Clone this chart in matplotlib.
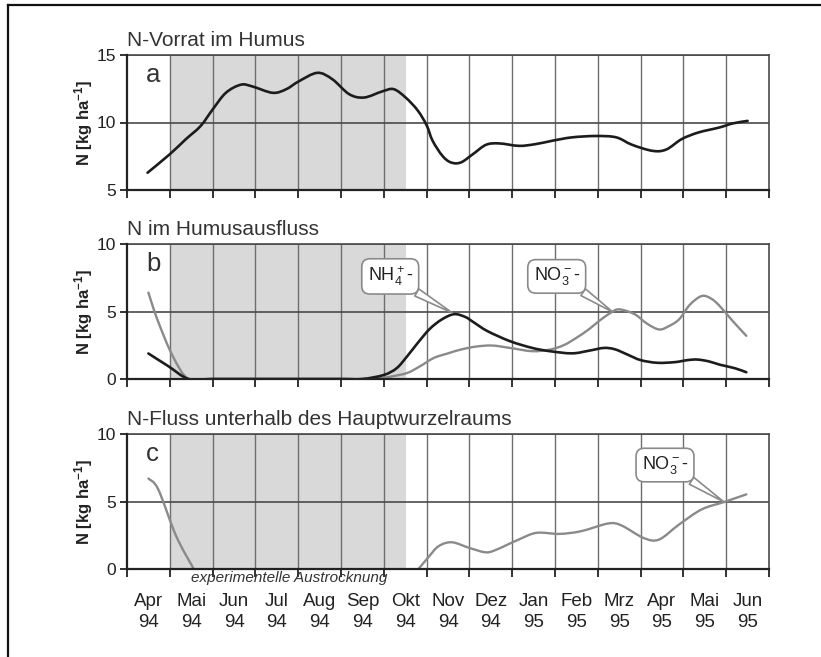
import matplotlib
matplotlib.use("Agg")
import matplotlib.pyplot as plt
from matplotlib.lines import Line2D
from matplotlib.path import Path
from matplotlib.patches import PathPatch

plt.rcParams['font.family'] = ['Liberation Sans', 'DejaVu Sans']
plt.rcParams['mathtext.fontset'] = 'custom'
plt.rcParams['mathtext.rm'] = 'Liberation Sans'
plt.rcParams['mathtext.it'] = 'Liberation Sans:italic'
plt.rcParams['mathtext.bf'] = 'Liberation Sans:bold'

# ---------------- data ----------------
months = ["Apr", "Mai", "Jun", "Jul", "Aug", "Sep", "Okt", "Nov", "Dez",
          "Jan", "Feb", "Mrz", "Apr", "Mai", "Jun"]
years = ["94", "94", "94", "94", "94", "94", "94", "94", "94",
         "95", "95", "95", "95", "95", "95"]
drying_start = 1.0
drying_end = 6.53

# panel a: N-Vorrat im Humus (x in months since start of Apr 94)
a_x = [0.48, 1.0, 1.37, 1.72, 2.0, 2.31, 2.66, 2.93, 3.4, 3.71, 4.02, 4.45,
       4.8, 5.19, 5.54, 5.96, 6.23, 6.51, 6.79, 7.0, 7.14, 7.37, 7.57, 7.8,
       8.08, 8.39, 8.7, 9.16, 9.55, 9.94, 10.4, 10.96, 11.43, 11.8, 12.28,
       12.6, 12.96, 13.35, 13.84, 14.15, 14.5]
a_y = [6.28, 7.65, 8.75, 9.74, 10.96, 12.2, 12.8, 12.67, 12.2, 12.45, 13.06,
       13.68, 13.2, 12.1, 11.85, 12.3, 12.47, 11.85, 10.9, 9.8, 8.65, 7.53,
       7.04, 7.04, 7.65, 8.35, 8.45, 8.27, 8.4, 8.65, 8.9, 9.0, 8.9, 8.35,
       7.9, 8.0, 8.77, 9.26, 9.63, 9.93, 10.12]

# panel b: N im Humusausfluss
b_nh4_x = [0.5, 0.97, 1.44, 2.0, 3.0, 4.0, 5.0, 5.5, 6.0, 6.3, 6.55, 6.8,
           7.07, 7.35, 7.64, 7.9, 8.1, 8.42, 8.95, 9.47, 9.88, 10.4, 10.8,
           11.14, 11.4, 11.7, 12.0, 12.39, 12.8, 13.1, 13.33, 13.6, 13.85,
           14.2, 14.47]
b_nh4_y = [1.89, 0.94, 0.0, 0.0, 0.0, 0.0, 0.0, 0.0, 0.3, 0.8, 1.7, 2.7,
           3.7, 4.4, 4.8, 4.6, 4.2, 3.55, 2.8, 2.3, 2.06, 1.9, 2.1, 2.3, 2.2,
           1.8, 1.4, 1.2, 1.25, 1.4, 1.44, 1.3, 1.06, 0.8, 0.5]
b_no3_x = [0.5, 0.71, 1.07, 1.44, 2.0, 3.0, 4.0, 5.0, 5.5, 5.92, 6.2, 6.55,
           6.85, 7.17, 7.5, 7.8, 8.15, 8.53, 8.95, 9.47, 9.88, 10.2, 10.5,
           10.8, 11.03, 11.3, 11.5, 11.86, 12.15, 12.43, 12.65, 12.9, 13.15,
           13.43, 13.65, 13.85, 14.15, 14.47]
b_no3_y = [6.4, 4.4, 1.69, 0.0, 0.0, 0.0, 0.0, 0.0, 0.0, 0.07, 0.2, 0.45,
           0.95, 1.56, 1.9, 2.18, 2.4, 2.48, 2.3, 2.06, 2.18, 2.5, 3.05, 3.7,
           4.3, 4.9, 5.16, 4.8, 4.1, 3.67, 3.9, 4.42, 5.5, 6.15, 5.95, 5.4,
           4.3, 3.2]

# panel c: N-Fluss unterhalb des Hauptwurzelraums (two segments)
c1_x = [0.5, 0.73, 1.15, 1.56]
c1_y = [6.7, 5.9, 2.43, 0.0]
c2_x = [6.81, 7.05, 7.28, 7.59, 8.0, 8.37, 8.6, 9.15, 9.57, 10.1, 10.61,
        11.24, 11.55, 12.07, 12.43, 12.9, 13.43, 13.95, 14.47]
c2_y = [0.0, 0.9, 1.69, 1.98, 1.56, 1.24, 1.39, 2.18, 2.68, 2.6, 2.8, 3.37,
        3.23, 2.3, 2.18, 3.3, 4.42, 4.96, 5.53]

# ---------------- figure ----------------
W, H = 821, 657
fig = plt.figure(figsize=(W / 100, H / 100), dpi=100)

def px_axes(left, top, right, bottom):
    return fig.add_axes([left / W, 1 - bottom / H, (right - left) / W, (bottom - top) / H])

ax_a = px_axes(127, 55, 769, 190)
ax_b = px_axes(127, 244, 769, 379)
ax_c = px_axes(127, 434, 769, 569)

BLACK = "#1c1c1c"
GRAY = "#8a8a8a"
HGRID = "#4a4a4a"
VGRID = "#6e6e6e"

def style(ax, ylim, yticks, title, letter, show_x=False):
    ax.set_xlim(0, 15)
    ax.set_ylim(*ylim)
    ax.axvspan(drying_start, drying_end, color="#d9d9d9", lw=0, zorder=0)
    for k in range(1, 15):
        ax.axvline(k, color=VGRID, lw=1.0, zorder=1)
    for v in yticks[1:]:
        ax.axhline(v, color=HGRID, lw=1.2, zorder=1)
    for s in ["top", "right"]:
        ax.spines[s].set_color(HGRID)
        ax.spines[s].set_linewidth(1.2)
    for s in ["left", "bottom"]:
        ax.spines[s].set_color("#222222")
        ax.spines[s].set_linewidth(1.6)
        ax.spines[s].set_zorder(5)
    ax.set_yticks(yticks)
    ax.set_yticklabels([str(v) for v in yticks])
    ax.tick_params(axis="y", direction="out", length=5, width=1.3,
                   color="#222222", labelsize=12.5, pad=3, labelcolor="#222222")
    ax.set_xticks(range(16))
    ax.tick_params(axis="x", which="major", direction="out", length=6,
                   width=1.3, color="#222222", labelbottom=False)
    if show_x:
        ax.set_xticks([k + 0.5 for k in range(15)], minor=True)
        ax.set_xticklabels([m + "\n" + y for m, y in zip(months, years)],
                           minor=True)
        ax.tick_params(axis="x", which="minor", length=0, labelsize=13.5,
                       pad=17, labelcolor="#222222")
        for lab in ax.get_xticklabels(minor=True):
            lab.set_linespacing(1.35)
    ax.text(0.0, 1.035, title, transform=ax.transAxes, ha="left", va="bottom",
            fontsize=15, color="#333333")
    ax.text(0.03, 0.94, letter, transform=ax.transAxes, ha="left", va="top",
            fontsize=18.5, color="#333333", zorder=5)
    ax.set_ylabel(r"N [kg ha$^{\mathbf{-1}}$]", fontsize=12,
                  fontweight="bold", color="#222222")

style(ax_a, (5, 15), [5, 10, 15], "N-Vorrat im Humus", "a")
style(ax_b, (0, 10), [0, 5, 10], "N im Humusausfluss", "b")
style(ax_c, (0, 10), [0, 5, 10], "N-Fluss unterhalb des Hauptwurzelraums",
      "c", show_x=True)

for ax in (ax_a, ax_b, ax_c):
    ax.yaxis.set_label_coords(-0.05, 0.5)

def smooth_line(ax, xs, ys, color, lw, zorder):
    """Draw a smoothed (Excel-style Bezier) line through the given points."""
    n = len(xs)
    verts = [(xs[0], ys[0])]
    codes = [Path.MOVETO]
    for i in range(n - 1):
        x0, y0 = (xs[i - 1], ys[i - 1]) if i > 0 else (xs[i], ys[i])
        x1, y1 = xs[i], ys[i]
        x2, y2 = xs[i + 1], ys[i + 1]
        x3, y3 = (xs[i + 2], ys[i + 2]) if i + 2 < n else (x2, y2)
        c1 = (x1 + (x2 - x0) / 6.0, y1 + (y2 - y0) / 6.0)
        c2 = (x2 - (x3 - x1) / 6.0, y2 - (y3 - y1) / 6.0)
        verts += [c1, c2, (x2, y2)]
        codes += [Path.CURVE4, Path.CURVE4, Path.CURVE4]
    patch = PathPatch(Path(verts, codes), fill=False, edgecolor=color, lw=lw,
                      zorder=zorder, capstyle="round", joinstyle="round")
    ax.add_patch(patch)

smooth_line(ax_a, a_x, a_y, BLACK, 1.9, 4)
smooth_line(ax_b, b_no3_x, b_no3_y, GRAY, 1.7, 3)
smooth_line(ax_b, b_nh4_x, b_nh4_y, BLACK, 1.9, 4)
smooth_line(ax_c, c1_x, c1_y, GRAY, 1.7, 3)
smooth_line(ax_c, c2_x, c2_y, GRAY, 1.7, 3)

def callout(ax, text, xy, xytext):
    ax.annotate(text, xy=xy, xytext=xytext, ha="center", va="center",
                fontsize=13, color="#222222", zorder=6,
                bbox=dict(boxstyle="round,pad=0.32,rounding_size=0.45",
                          fc="white", ec="#8a8a8a", lw=1.2),
                arrowprops=dict(arrowstyle="wedge,tail_width=0.45,shrink_factor=0.5",
                                fc="white", ec="#8a8a8a", lw=1.2,
                                relpos=(0.88, 0.05), shrinkA=0, shrinkB=0))

callout(ax_b, r"NH$_4^+$-", (7.6, 4.9), (6.15, 7.6))
callout(ax_b, r"NO$_3^-$-", (11.35, 4.96), (10.04, 7.6))
callout(ax_c, r"NO$_3^-$-", (13.95, 4.96), (12.57, 7.7))

fig.text(289 / W, 1 - 578 / H, "experimentelle Austrocknung", ha="center",
         va="center", fontsize=11, style="italic", color="#333333")

# outer frame
fig.add_artist(Line2D([7.5 / W, 7.5 / W], [0, 1 - 4.5 / H], transform=fig.transFigure,
                      color="#111111", lw=1.6))
fig.add_artist(Line2D([7.5 / W, 1], [1 - 4.5 / H, 1 - 4.5 / H], transform=fig.transFigure,
                      color="#111111", lw=1.6))

fig.savefig("out.png", dpi=100)
